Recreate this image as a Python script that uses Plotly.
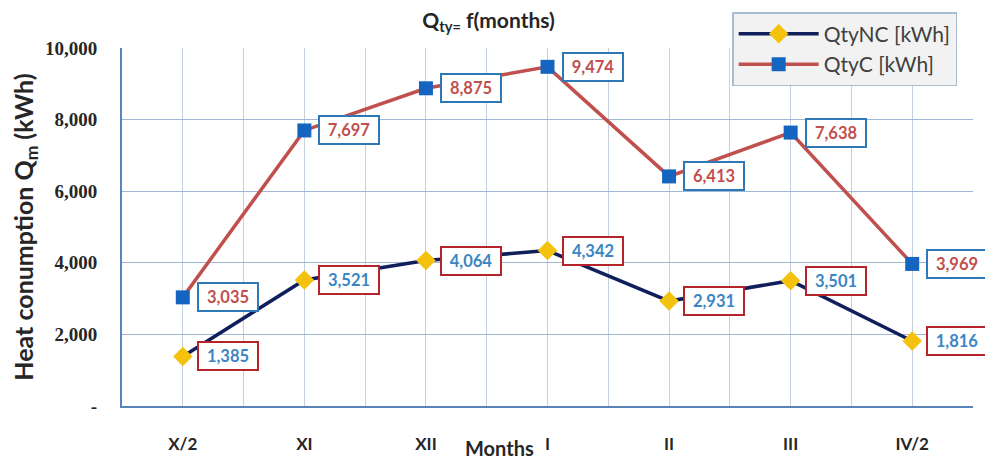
import plotly.graph_objects as go

months = ["X/2", "XI", "XII", "I", "II", "III", "IV/2"]
qty_nc = [1385, 3521, 4064, 4342, 2931, 3501, 1816]
qty_c = [3035, 7697, 8875, 9474, 6413, 7638, 3969]
y_ticks = [0, 2000, 4000, 6000, 8000, 10000]
y_ticktext = ["-", "2,000", "4,000", "6,000", "8,000", "10,000"]

xi = list(range(len(months)))
SANS = "Lato, Open Sans, sans-serif"

fig = go.Figure()
fig.add_trace(go.Scatter(
    x=xi, y=qty_nc, name="QtyNC [kWh]", mode="lines+markers",
    line=dict(color="#0f1f5c", width=3.5),
    marker=dict(symbol="diamond", size=15, color="#f4c20d", line=dict(color="#f4c20d", width=0)),
))
fig.add_trace(go.Scatter(
    x=xi, y=qty_c, name="QtyC [kWh]", mode="lines+markers",
    line=dict(color="#c0504d", width=3.5),
    marker=dict(symbol="square", size=14, color="#1565c0", line=dict(color="#1565c0", width=0)),
))

anns = []
for series, txtcol, bcol in ((qty_nc, "#3a86c4", "#b5232b"), (qty_c, "#c0504d", "#2e78b8")):
    for i, v in enumerate(series):
        anns.append(dict(
            x=xi[i], y=v, xref="x", yref="y", text=f"<b>{v:,}</b>", showarrow=False,
            xanchor="left", yanchor="middle", xshift=14,
            font=dict(family=SANS, size=16.5, color=txtcol),
            bgcolor="white", bordercolor=bcol, borderwidth=2, borderpad=2,
            width=54, height=22,
        ))
anns.append(dict(
    x=0.444, y=-0.118, xref="paper", yref="paper", text="<b>Months</b>", showarrow=False,
    xanchor="center", yanchor="middle",
    font=dict(family=SANS, size=20, color="#262626"),
))

fig.update_layout(
    width=985, height=461,
    margin=dict(l=122, r=12, t=48, b=55, autoexpand=False),
    paper_bgcolor="white", plot_bgcolor="white",
    title=dict(text="<b>Q<sub>ty=</sub> f(months)</b>", x=0.496, xanchor="center", y=0.956, yanchor="middle",
               font=dict(family=SANS, size=21, color="#262626")),
    legend=dict(x=0.717, y=1.1, xanchor="left", yanchor="top",
                bgcolor="#f2f2f2", bordercolor="#a9bcd0", borderwidth=1.5,
                font=dict(family=SANS, size=21, color="#404040"),
                itemwidth=80, tracegroupgap=2),
    annotations=anns,
    showlegend=True,
)
fig.update_xaxes(
    range=[-0.5, 6.5], tickvals=xi, ticktext=[f"<b>{m}</b>" for m in months],
    showgrid=True, gridcolor="#c5d0de", gridwidth=1,
    minor=dict(tick0=-0.5, dtick=1, showgrid=True, gridcolor="#c5d0de", gridwidth=1),
    showline=True, linecolor="#5b84b8", linewidth=2,
    ticks="outside", ticklen=22, tickcolor="rgba(0,0,0,0)",
    tickfont=dict(family=SANS, size=17, color="#262626"),
    zeroline=False, automargin=False,
)
fig.update_yaxes(
    range=[0, 10000], tickvals=y_ticks, ticktext=[f"<b>{t}</b>" for t in y_ticktext],
    showgrid=True, gridcolor="#9fb8d6", gridwidth=1.2,
    showline=True, linecolor="#5b84b8", linewidth=2,
    ticks="outside", ticklen=19, tickcolor="rgba(0,0,0,0)",
    tickfont=dict(family="Liberation Serif, serif", size=19, color="#262626"),
    zeroline=False, automargin=False,
    title=dict(text="<b>Heat conumption Q<sub>m</sub> (kWh)</b>", standoff=4,
               font=dict(family=SANS, size=25, color="#262626")),
)

fig.write_html("out.html", config={"displayModeBar": False},
               post_script="document.body.style.margin='0';")
